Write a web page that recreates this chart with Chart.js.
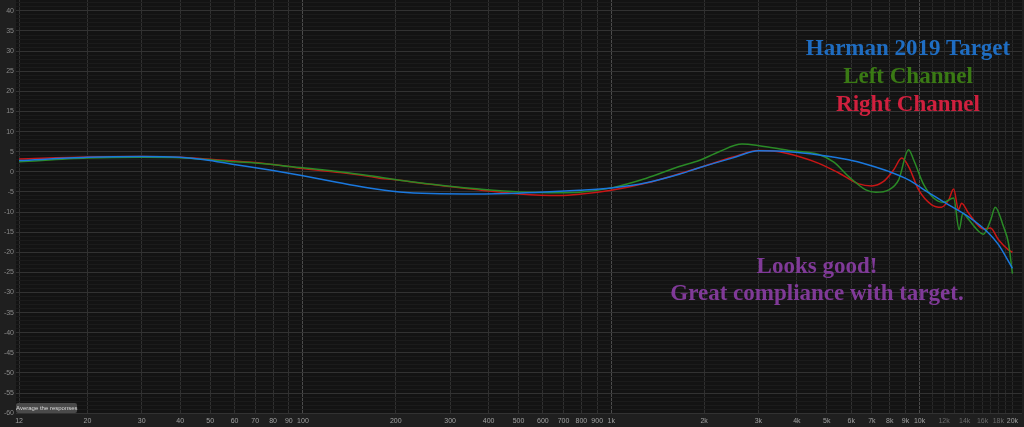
<!DOCTYPE html>
<html><head><meta charset="utf-8">
<script src="https://cdn.jsdelivr.net/npm/chart.js@4.4.0/dist/chart.umd.min.js"></script>
<style>
html,body{margin:0;padding:0;background:#1f1f1f;width:1024px;height:427px;overflow:hidden}
#wrap{position:relative;width:1024px;height:427px}
canvas{position:absolute;left:0;top:0}
.note{position:absolute;font-family:"Liberation Serif","Times New Roman",serif;font-weight:bold;font-size:23px;line-height:23px;text-align:center;white-space:nowrap;width:400px}
#btn{position:absolute;left:16px;top:403px;width:61px;height:10px;background:#4a4a4a;border-radius:2px;color:#d8d8d8;font:6px "Liberation Sans",Arial,sans-serif;line-height:10px;text-align:center;white-space:nowrap}
</style></head>
<body><div id="wrap"><canvas id="c" width="1024" height="427"></canvas>
<div class="note" style="left:708px;top:36px;color:#1f6dc2">Harman 2019 Target</div>
<div class="note" style="left:708px;top:64px;color:#3a7a14">Left Channel</div>
<div class="note" style="left:708px;top:92px;color:#d0203e">Right Channel</div>
<div class="note" style="left:617px;top:254px;color:#803a98">Looks good!</div>
<div class="note" style="left:617px;top:281px;color:#803a98">Great compliance with target.</div>
<div id="btn">Average the responses</div>
</div>
<script>
const harmanFreq = [12,20,30,40,48,59,80,100,125,160,206,260,374,585,788,1000,1300,1660,1927,2464,3013,3767,4711,5890,6840,7940,9210,10690,12420,14420,16720,18020,20000];
const harmanDb   = [2.8,3.6,3.8,3.6,3.0,1.9,0.3,-1.0,-2.4,-3.9,-5.0,-5.4,-5.5,-5.1,-4.6,-4.0,-2.7,-0.6,1.0,3.4,5.2,5.0,4.2,3.0,1.7,0.1,-2.0,-5.2,-8.2,-11.2,-15.2,-18.1,-24.0];

const leftFreq = [12,20,30,40,50,60,70,80,90,100,132,165,206,299,374,504,679,788,1000,1300,1660,1927,2236,2654,3013,3767,4711,5270,5890,6690,7210,7940,8550,9210,9560,10310,11100,11960,12890,13440,13800,14400,15400,16110,17000,17580,18700,19410,20000];
const leftDb   = [2.5,3.4,3.6,3.5,3.0,2.5,2.2,1.8,1.3,1.0,0.0,-1.0,-2.1,-3.6,-4.3,-5.0,-5.2,-5.1,-4.0,-1.6,1.3,2.8,5.0,6.9,6.5,5.3,4.3,2.4,-1.2,-4.5,-5.1,-4.5,-2.0,5.5,3.0,-3.2,-6.5,-7.6,-6.5,-14.4,-10.3,-11.8,-14.5,-15.5,-12.0,-8.8,-13.6,-17.7,-25.3];

const rightFreq = [12,20,30,40,50,60,70,80,90,100,132,165,177,206,239,374,504,679,788,1000,1300,1660,1927,2464,3013,3498,4056,4711,5470,6350,6995,7640,8240,8750,9210,9930,10940,11780,12420,12890,13370,13680,14420,16110,16980,18020,19410,20000];
const rightDb   = [3.2,3.7,3.8,3.6,3.1,2.7,2.3,1.8,1.3,0.8,-0.2,-1.2,-1.6,-2.1,-2.8,-4.5,-5.5,-5.9,-5.6,-4.6,-2.8,-0.5,1.0,3.6,5.3,5.0,3.8,2.1,-0.3,-3.0,-3.5,-2.4,0.5,3.4,1.3,-4.5,-8.2,-8.8,-7.0,-4.3,-9.4,-7.8,-10.3,-14.2,-14.0,-16.9,-19.4,-20.0];

const xTickValues = [12,20,30,40,50,60,70,80,90,100,200,300,400,500,600,700,800,900,1000,2000,3000,4000,5000,6000,7000,8000,9000,10000,11000,12000,13000,14000,15000,16000,17000,18000,19000,20000];
const xTickLabels = ['12','20','30','40','50','60','70','80','90','100','200','300','400','500','600','700','800','900','1k','2k','3k','4k','5k','6k','7k','8k','9k','10k','','12k','','14k','','16k','','18k','','20k'];
const yTickValues = [-60,-55,-50,-45,-40,-35,-30,-25,-20,-15,-10,-5,0,5,10,15,20,25,30,35,40];
const yTickLabels = ['-60','-55','-50','-45','-40','-35','-30','-25','-20','-15','-10','-5','0','5','10','15','20','25','30','35','40'];

const toPts = (f, d) => f.map((v, i) => ({x: v, y: d[i]}));

const plotBg = {
  id: 'plotBg',
  beforeDraw(chart) {
    const a = chart.chartArea, c = chart.ctx;
    c.save(); c.fillStyle = '#131313';
    c.fillRect(a.left, a.top, a.right - a.left, a.bottom - a.top);
    c.restore();
  }
};

const decades = [100, 1000, 10000];
const noPad = s => { s.paddingTop = 0; s.paddingBottom = 0; s.paddingLeft = 0; s.paddingRight = 0; };

new Chart(document.getElementById('c'), {
  type: 'scatter',
  data: {
    datasets: [
      {label: 'Harman 2019 Target', data: toPts(harmanFreq, harmanDb), borderColor: '#1a78de', borderWidth: 1.5},
      {label: 'Left Channel', data: toPts(leftFreq, leftDb), borderColor: '#2a8a26', borderWidth: 1.5},
      {label: 'Right Channel', data: toPts(rightFreq, rightDb), borderColor: '#c81616', borderWidth: 1.5}
    ].map(d => Object.assign(d, {showLine: true, pointRadius: 0, cubicInterpolationMode: 'monotone', fill: false}))
  },
  options: {
    responsive: false,
    animation: false,
    layout: {padding: {left: 0, right: 2, top: 0, bottom: 0}},
    plugins: {legend: {display: false}, tooltip: {enabled: false}},
    scales: {
      x: {
        type: 'logarithmic', min: 11.73, max: 21480,
        afterBuildTicks: s => { s.ticks = xTickValues.map(v => ({value: v})); },
        afterFit: s => { s.height = 13; noPad(s); },
        border: {display: false},
        grid: {
          drawTicks: false,
          lineWidth: 1,
          color: ctx => {
            const v = ctx.tick ? ctx.tick.value : 0;
            if (decades.includes(v)) return '#4c4c4c';
            if (v > 10000) return '#282828';
            return '#303030';
          }
        },
        ticks: {
          autoSkip: false, maxRotation: 0, minRotation: 0, padding: 3,
          font: {family: 'Liberation Sans', size: 7},
          color: ctx => { const v = ctx.tick ? ctx.tick.value : 0; return (v > 10000 && v < 20000) ? '#6a6a6a' : '#a0a0a0'; },
          callback: (v, i) => xTickLabels[i]
        }
      },
      y: {
        type: 'linear', min: -60.2, max: 42.7,
        afterBuildTicks: s => { const t = []; for (let v = -60; v <= 42; v++) t.push({value: v}); s.ticks = t; },
        afterFit: s => { s.width = 16; noPad(s); },
        border: {display: false},
        grid: {
          drawTicks: false,
          lineWidth: 1,
          color: ctx => { const v = ctx.tick ? ctx.tick.value : 1; return (v % 5 === 0) ? '#323232' : '#1b1b1b'; }
        },
        ticks: {
          autoSkip: false, padding: 2,
          font: {family: 'Liberation Sans', size: 7},
          color: '#8a8a8a',
          callback: v => { const k = yTickValues.indexOf(v); return k >= 0 ? yTickLabels[k] : ''; }
        }
      }
    }
  },
  plugins: [plotBg]
});
</script>
</body></html>
